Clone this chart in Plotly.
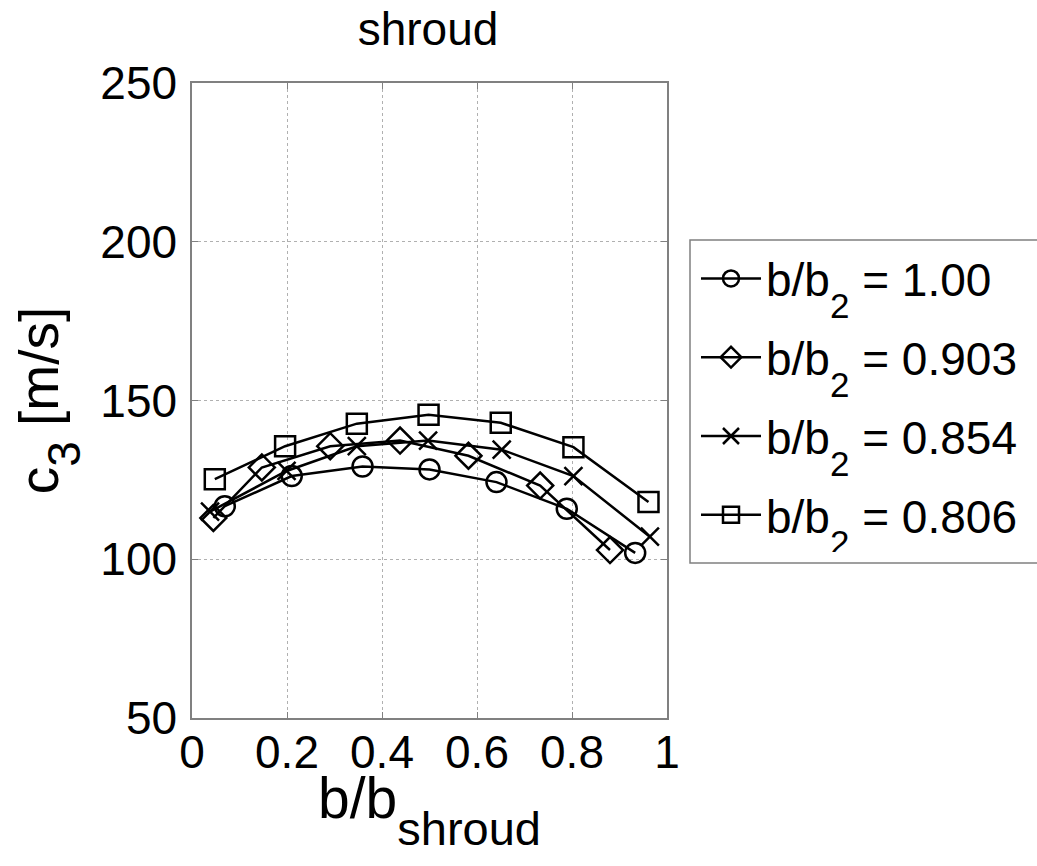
import plotly.graph_objects as go

# data
x_100 = [0.069, 0.210, 0.359, 0.500, 0.641, 0.789, 0.933]
y_100 = [116.7, 126.2, 129.2, 128.3, 124.3, 115.9, 102.0]

x_903 = [0.045, 0.147, 0.291, 0.438, 0.582, 0.733, 0.880]
y_903 = [113.0, 128.9, 135.6, 137.4, 132.6, 123.2, 102.9]

x_854 = [0.038, 0.199, 0.347, 0.497, 0.652, 0.803, 0.964]
y_854 = [115.0, 127.8, 135.6, 137.4, 134.5, 126.2, 107.1]

x_806 = [0.048, 0.196, 0.347, 0.498, 0.650, 0.803, 0.961]
y_806 = [125.2, 135.6, 142.7, 145.5, 143.0, 135.3, 118.0]

SUB = "<span style='font-size:35px;baseline-shift:-22px'>{}</span>"
names = ["b/b" + SUB.format("2") + " = 1.00",
         "b/b" + SUB.format("2") + " = 0.903",
         "b/b" + SUB.format("2") + " = 0.854",
         "b/b" + SUB.format("2") + " = 0.806"]
symbols = ["circle-open", "diamond-open", "x-thin-open", "square-open"]
sizes = [20, 20, 18, 20]
xs = [x_100, x_903, x_854, x_806]
ys = [y_100, y_903, y_854, y_806]

x_ticks = [0, 0.2, 0.4, 0.6, 0.8, 1]
x_ticklabels = ["0", "0.2", "0.4", "0.6", "0.8", "1"]
y_ticks = [50, 100, 150, 200, 250]

FONT = "Liberation Sans, Arial, sans-serif"

# plot area in pixels
L, R, T, B = 192, 667, 83, 718
W, H = R - L, B - T


def px_x(p):
    return (p - L) / W


def px_y(p):
    return (B - p) / H


fig = go.Figure()
for i, (x, y, n, s, sz) in enumerate(zip(xs, ys, names, symbols, sizes)):
    fig.add_trace(go.Scatter(
        x=x, y=y, name=n, mode="lines+markers", legendgroup=f"g{i}",
        line=dict(color="black", width=2.5),
        marker=dict(symbol=s, size=sz, color="black",
                    line=dict(color="black", width=2.5)),
    ))

axis_common = dict(
    showline=True, linecolor="#808080", linewidth=1.5, mirror="ticks",
    ticks="inside", ticklen=6, tickcolor="#808080",
    showgrid=True, gridcolor="#b0b0b0", griddash="dot", gridwidth=1,
    zeroline=False,
    tickfont=dict(family=FONT, size=46, color="black"),
)

fig.update_layout(
    width=1037, height=866,
    paper_bgcolor="white", plot_bgcolor="white",
    margin=dict(l=L, r=1037 - R, t=T, b=866 - B),
    title=dict(text="shroud", x=428 / 1037, xanchor="center",
               y=1 - 29 / 866, yanchor="middle",
               font=dict(family=FONT, size=46, color="black")),
    xaxis=dict(range=[0, 1], tickvals=x_ticks, ticktext=x_ticklabels,
               ticklabelstandoff=-7, **axis_common),
    yaxis=dict(range=[50, 250], tickvals=y_ticks, ticklabelstandoff=4,
               title=dict(text="c<span style='font-size:46px;baseline-shift:-22px'>3</span> [m/s]",
                          standoff=24,
                          font=dict(family=FONT, size=55, color="black")),
               **axis_common),
    legend=dict(x=px_x(696), y=px_y(242), xanchor="left", yanchor="top",
                borderwidth=0, bgcolor="rgba(0,0,0,0)",
                font=dict(family=FONT, size=46, color="black"),
                tracegroupgap=16, itemwidth=60),
    showlegend=True,
    shapes=[dict(type="rect", xref="paper", yref="paper",
                 x0=px_x(690), x1=px_x(1045), y0=px_y(563), y1=px_y(240),
                 line=dict(color="#808080", width=1.5),
                 fillcolor="rgba(0,0,0,0)", layer="above")],
    annotations=[dict(text="b/b<span style='font-size:47px;baseline-shift:-27px'>shroud</span>",
                      xref="paper", yref="paper", x=0.5, y=px_y(764),
                      xanchor="center", yanchor="top", showarrow=False,
                      font=dict(family=FONT, size=57, color="black"))],
)

fig.write_html("out.html")
